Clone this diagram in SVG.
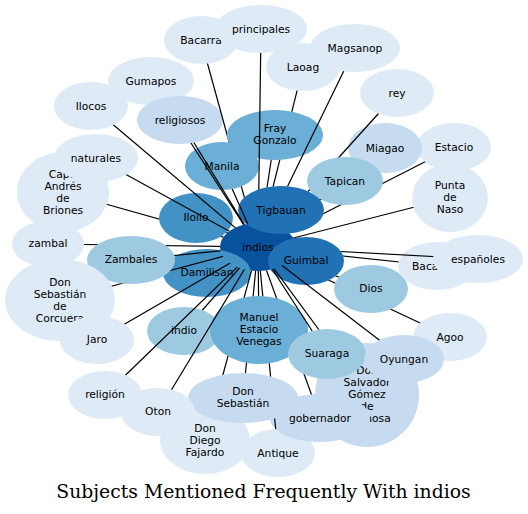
<svg xmlns="http://www.w3.org/2000/svg" xmlns:xlink="http://www.w3.org/1999/xlink" width="528" height="514" viewBox="0 0 528 514">
<style>
.f1{fill:#deebf7}.f2{fill:#c6dbef}.f3{fill:#9ecae1}.f4{fill:#6baed6}.f5{fill:#4292c6}.f6{fill:#2171b5}.f7{fill:#08519c}
text{font-family:"DejaVu Sans",sans-serif;font-size:10.7px;text-anchor:middle;fill:#000}
#title{font-family:"DejaVu Serif",serif;font-size:18.8px}
#edges line{stroke:#000;stroke-width:1.2}
</style>
<defs>
<ellipse id="s-bac" cx="201" cy="40" rx="37" ry="24"/>
<ellipse id="s-pri" cx="261" cy="29" rx="46" ry="24"/>
<ellipse id="s-gum" cx="151" cy="81" rx="43" ry="24"/>
<ellipse id="s-ilc" cx="91" cy="106" rx="37" ry="24"/>
<ellipse id="s-rel" cx="180" cy="120" rx="43" ry="24"/>
<ellipse id="s-lao" cx="303" cy="67" rx="37" ry="24"/>
<ellipse id="s-mag" cx="355" cy="48" rx="45" ry="24"/>
<ellipse id="s-rey" cx="397" cy="93" rx="37" ry="24"/>
<ellipse id="s-mia" cx="385" cy="148" rx="37" ry="25"/>
<ellipse id="s-est" cx="454" cy="147" rx="37" ry="24"/>
<ellipse id="s-fra" cx="275" cy="135" rx="48" ry="25"/>
<ellipse id="s-man" cx="222" cy="166" rx="37" ry="24"/>
<ellipse id="s-nat" cx="96" cy="158" rx="42" ry="24"/>
<ellipse id="s-cap" cx="63" cy="192" rx="46" ry="40"/>
<ellipse id="s-tap" cx="345" cy="181" rx="38" ry="24"/>
<ellipse id="s-pun" cx="450" cy="198" rx="38" ry="34"/>
<ellipse id="s-tig" cx="281" cy="210" rx="43" ry="24"/>
<ellipse id="s-ilo" cx="196" cy="218" rx="37" ry="25"/>
<ellipse id="s-ind" cx="258" cy="247" rx="38" ry="24"/>
<ellipse id="s-zal" cx="48" cy="244" rx="36" ry="23"/>
<ellipse id="s-zam" cx="131" cy="260" rx="44" ry="24"/>
<ellipse id="s-dam" cx="207" cy="273" rx="44" ry="24"/>
<ellipse id="s-gui" cx="306" cy="261" rx="38" ry="24"/>
<ellipse id="s-bca" cx="437" cy="266" rx="39" ry="24"/>
<ellipse id="s-esp" cx="478" cy="259" rx="45" ry="24"/>
<ellipse id="s-dio" cx="371" cy="289" rx="37" ry="24"/>
<ellipse id="s-cor" cx="60" cy="300" rx="55" ry="41"/>
<ellipse id="s-jar" cx="97" cy="340" rx="37" ry="24"/>
<ellipse id="s-ino" cx="184" cy="331" rx="37" ry="24"/>
<ellipse id="s-mev" cx="259" cy="330" rx="49" ry="34"/>
<ellipse id="s-ago" cx="450" cy="337" rx="37" ry="24"/>
<ellipse id="s-sua" cx="327" cy="354" rx="39" ry="25"/>
<ellipse id="s-oyu" cx="404" cy="359" rx="40" ry="24"/>
<ellipse id="s-dsg" cx="367" cy="395" rx="52" ry="52"/>
<ellipse id="s-rlg" cx="105" cy="395" rx="37" ry="24"/>
<ellipse id="s-oto" cx="158" cy="412" rx="37" ry="24"/>
<ellipse id="s-dse" cx="243" cy="398" rx="55" ry="25"/>
<ellipse id="s-gob" cx="320" cy="418" rx="50" ry="24"/>
<ellipse id="s-ddf" cx="205" cy="440" rx="45" ry="34"/>
<ellipse id="s-ant" cx="278" cy="453" rx="37" ry="24"/>
<rect id="bg" width="528" height="514" fill="#fff"/>
<mask id="m-bac" maskUnits="userSpaceOnUse" x="0" y="0" width="528" height="514"><use href="#bg"/><use href="#s-ind"/><use href="#s-bac"/><use href="#s-fra"/><use href="#s-man"/><use href="#s-tig"/></mask>
<mask id="m-pri" maskUnits="userSpaceOnUse" x="0" y="0" width="528" height="514"><use href="#bg"/><use href="#s-ind"/><use href="#s-pri"/><use href="#s-tig"/></mask>
<mask id="m-gum" maskUnits="userSpaceOnUse" x="0" y="0" width="528" height="514"><use href="#bg"/><use href="#s-ind"/><use href="#s-gum"/><use href="#s-rel"/></mask>
<mask id="m-ilc" maskUnits="userSpaceOnUse" x="0" y="0" width="528" height="514"><use href="#bg"/><use href="#s-ind"/><use href="#s-ilc"/></mask>
<mask id="m-rel" maskUnits="userSpaceOnUse" x="0" y="0" width="528" height="514"><use href="#bg"/><use href="#s-ind"/><use href="#s-rel"/></mask>
<mask id="m-lao" maskUnits="userSpaceOnUse" x="0" y="0" width="528" height="514"><use href="#bg"/><use href="#s-ind"/><use href="#s-lao"/><use href="#s-fra"/><use href="#s-tig"/></mask>
<mask id="m-mag" maskUnits="userSpaceOnUse" x="0" y="0" width="528" height="514"><use href="#bg"/><use href="#s-ind"/><use href="#s-mag"/><use href="#s-tig"/></mask>
<mask id="m-rey" maskUnits="userSpaceOnUse" x="0" y="0" width="528" height="514"><use href="#bg"/><use href="#s-ind"/><use href="#s-rey"/><use href="#s-tap"/><use href="#s-tig"/></mask>
<mask id="m-mia" maskUnits="userSpaceOnUse" x="0" y="0" width="528" height="514"><use href="#bg"/><use href="#s-ind"/><use href="#s-mia"/><use href="#s-tap"/><use href="#s-tig"/></mask>
<mask id="m-est" maskUnits="userSpaceOnUse" x="0" y="0" width="528" height="514"><use href="#bg"/><use href="#s-ind"/><use href="#s-est"/><use href="#s-tap"/><use href="#s-tig"/></mask>
<mask id="m-fra" maskUnits="userSpaceOnUse" x="0" y="0" width="528" height="514"><use href="#bg"/><use href="#s-ind"/><use href="#s-fra"/><use href="#s-tig"/></mask>
<mask id="m-man" maskUnits="userSpaceOnUse" x="0" y="0" width="528" height="514"><use href="#bg"/><use href="#s-ind"/><use href="#s-man"/></mask>
<mask id="m-nat" maskUnits="userSpaceOnUse" x="0" y="0" width="528" height="514"><use href="#bg"/><use href="#s-ind"/><use href="#s-nat"/></mask>
<mask id="m-cap" maskUnits="userSpaceOnUse" x="0" y="0" width="528" height="514"><use href="#bg"/><use href="#s-ind"/><use href="#s-cap"/><use href="#s-ilo"/></mask>
<mask id="m-tap" maskUnits="userSpaceOnUse" x="0" y="0" width="528" height="514"><use href="#bg"/><use href="#s-ind"/><use href="#s-tap"/><use href="#s-tig"/></mask>
<mask id="m-pun" maskUnits="userSpaceOnUse" x="0" y="0" width="528" height="514"><use href="#bg"/><use href="#s-ind"/><use href="#s-pun"/></mask>
<mask id="m-tig" maskUnits="userSpaceOnUse" x="0" y="0" width="528" height="514"><use href="#bg"/><use href="#s-ind"/><use href="#s-tig"/></mask>
<mask id="m-ilo" maskUnits="userSpaceOnUse" x="0" y="0" width="528" height="514"><use href="#bg"/><use href="#s-ind"/><use href="#s-ilo"/></mask>
<mask id="m-zal" maskUnits="userSpaceOnUse" x="0" y="0" width="528" height="514"><use href="#bg"/><use href="#s-ind"/><use href="#s-zal"/><use href="#s-zam"/></mask>
<mask id="m-zam" maskUnits="userSpaceOnUse" x="0" y="0" width="528" height="514"><use href="#bg"/><use href="#s-ind"/><use href="#s-zam"/></mask>
<mask id="m-dam" maskUnits="userSpaceOnUse" x="0" y="0" width="528" height="514"><use href="#bg"/><use href="#s-ind"/><use href="#s-dam"/></mask>
<mask id="m-gui" maskUnits="userSpaceOnUse" x="0" y="0" width="528" height="514"><use href="#bg"/><use href="#s-ind"/><use href="#s-gui"/></mask>
<mask id="m-bca" maskUnits="userSpaceOnUse" x="0" y="0" width="528" height="514"><use href="#bg"/><use href="#s-ind"/><use href="#s-bca"/><use href="#s-gui"/></mask>
<mask id="m-esp" maskUnits="userSpaceOnUse" x="0" y="0" width="528" height="514"><use href="#bg"/><use href="#s-ind"/><use href="#s-esp"/><use href="#s-gui"/></mask>
<mask id="m-dio" maskUnits="userSpaceOnUse" x="0" y="0" width="528" height="514"><use href="#bg"/><use href="#s-ind"/><use href="#s-dio"/><use href="#s-gui"/></mask>
<mask id="m-ago" maskUnits="userSpaceOnUse" x="0" y="0" width="528" height="514"><use href="#bg"/><use href="#s-ind"/><use href="#s-ago"/><use href="#s-gui"/><use href="#s-dio"/></mask>
<mask id="m-cor" maskUnits="userSpaceOnUse" x="0" y="0" width="528" height="514"><use href="#bg"/><use href="#s-ind"/><use href="#s-cor"/><use href="#s-zam"/></mask>
<mask id="m-jar" maskUnits="userSpaceOnUse" x="0" y="0" width="528" height="514"><use href="#bg"/><use href="#s-ind"/><use href="#s-jar"/></mask>
<mask id="m-ino" maskUnits="userSpaceOnUse" x="0" y="0" width="528" height="514"><use href="#bg"/><use href="#s-ind"/><use href="#s-ino"/></mask>
<mask id="m-mev" maskUnits="userSpaceOnUse" x="0" y="0" width="528" height="514"><use href="#bg"/><use href="#s-ind"/><use href="#s-mev"/></mask>
<mask id="m-sua" maskUnits="userSpaceOnUse" x="0" y="0" width="528" height="514"><use href="#bg"/><use href="#s-ind"/><use href="#s-sua"/></mask>
<mask id="m-oyu" maskUnits="userSpaceOnUse" x="0" y="0" width="528" height="514"><use href="#bg"/><use href="#s-ind"/><use href="#s-oyu"/></mask>
<mask id="m-dsg" maskUnits="userSpaceOnUse" x="0" y="0" width="528" height="514"><use href="#bg"/><use href="#s-ind"/><use href="#s-dsg"/><use href="#s-sua"/></mask>
<mask id="m-rlg" maskUnits="userSpaceOnUse" x="0" y="0" width="528" height="514"><use href="#bg"/><use href="#s-ind"/><use href="#s-rlg"/></mask>
<mask id="m-oto" maskUnits="userSpaceOnUse" x="0" y="0" width="528" height="514"><use href="#bg"/><use href="#s-ind"/><use href="#s-oto"/></mask>
<mask id="m-dse" maskUnits="userSpaceOnUse" x="0" y="0" width="528" height="514"><use href="#bg"/><use href="#s-ind"/><use href="#s-dse"/><use href="#s-mev"/></mask>
<mask id="m-gob" maskUnits="userSpaceOnUse" x="0" y="0" width="528" height="514"><use href="#bg"/><use href="#s-ind"/><use href="#s-gob"/><use href="#s-mev"/><use href="#s-sua"/></mask>
<mask id="m-ddf" maskUnits="userSpaceOnUse" x="0" y="0" width="528" height="514"><use href="#bg"/><use href="#s-ind"/><use href="#s-ddf"/><use href="#s-mev"/><use href="#s-dse"/></mask>
<mask id="m-ant" maskUnits="userSpaceOnUse" x="0" y="0" width="528" height="514"><use href="#bg"/><use href="#s-ind"/><use href="#s-ant"/><use href="#s-mev"/><use href="#s-dse"/></mask>
</defs>
<rect width="528" height="514" fill="#fff"/>
<g id="nodes">
<g id="n-bac"><use href="#s-bac" class="f1"/><text x="201" y="43.8">Bacarra</text></g>
<g id="n-pri"><use href="#s-pri" class="f1"/><text x="261" y="32.8">principales</text></g>
<g id="n-gum"><use href="#s-gum" class="f1"/><text x="151" y="84.8">Gumapos</text></g>
<g id="n-rel"><use href="#s-rel" class="f2"/><text x="180" y="123.8">religiosos</text></g>
<g id="n-ilc"><use href="#s-ilc" class="f1"/><text x="91" y="109.8">Ilocos</text></g>
<g id="n-lao"><use href="#s-lao" class="f1"/><text x="303" y="70.8">Laoag</text></g>
<g id="n-mag"><use href="#s-mag" class="f1"/><text x="355" y="51.8">Magsanop</text></g>
<g id="n-rey"><use href="#s-rey" class="f1"/><text x="397" y="96.8">rey</text></g>
<g id="n-est"><use href="#s-est" class="f1"/><text x="454" y="150.8">Estacio</text></g>
<g id="n-mia"><use href="#s-mia" class="f2"/><text x="385" y="151.8">Miagao</text></g>
<g id="n-cap"><use href="#s-cap" class="f1"/><text x="63" y="177.8">Capt.</text><text x="63" y="189.8">Andrés</text><text x="63" y="201.8">de</text><text x="63" y="213.8">Briones</text></g>
<g id="n-nat"><use href="#s-nat" class="f1"/><text x="96" y="161.8">naturales</text></g>
<g id="n-pun"><use href="#s-pun" class="f1"/><text x="450" y="188.8">Punta</text><text x="450" y="200.8">de</text><text x="450" y="212.8">Naso</text></g>
<g id="n-fra"><use href="#s-fra" class="f4"/><text x="275" y="131.8">Fray</text><text x="275" y="143.8">Gonzalo</text></g>
<g id="n-man"><use href="#s-man" class="f4"/><text x="222" y="169.8">Manila</text></g>
<g id="n-ilo"><use href="#s-ilo" class="f5"/><text x="196" y="221">Iloilo</text></g>
<g id="n-ind"><use href="#s-ind" class="f7"/><text x="258" y="250.8">indios</text></g>
<g id="n-tap"><use href="#s-tap" class="f3"/><text x="345" y="184.8">Tapican</text></g>
<g id="n-tig"><use href="#s-tig" class="f6"/><text x="281" y="213.8">Tigbauan</text></g>
<g id="n-dam"><use href="#s-dam" class="f5"/><text x="207" y="276">Damilisan</text></g>
<g id="n-zam"><use href="#s-zam" class="f3"/><text x="131" y="263">Zambales</text></g>
<g id="n-gui"><use href="#s-gui" class="f6"/><text x="306" y="264">Guimbal</text></g>
<g id="n-zal"><use href="#s-zal" class="f1"/><text x="48" y="247">zambal</text></g>
<g id="n-cor"><use href="#s-cor" class="f1"/><text x="60" y="285.8">Don</text><text x="60" y="297.8">Sebastián</text><text x="60" y="309.8">de</text><text x="60" y="321.8">Corcuera</text></g>
<g id="n-jar"><use href="#s-jar" class="f1"/><text x="97" y="343">Jaro</text></g>
<g id="n-ino"><use href="#s-ino" class="f3"/><text x="184" y="334">indio</text></g>
<g id="n-mev"><use href="#s-mev" class="f4"/><text x="259" y="320.8">Manuel</text><text x="259" y="332.8">Estacio</text><text x="259" y="344.8">Venegas</text></g>
<g id="n-ddf"><use href="#s-ddf" class="f1"/><text x="205" y="431.8">Don</text><text x="205" y="443.8">Diego</text><text x="205" y="455.8">Fajardo</text></g>
<g id="n-dse"><use href="#s-dse" class="f2"/><text x="243" y="395">Don</text><text x="243" y="407">Sebastián</text></g>
<g id="n-ant"><use href="#s-ant" class="f1"/><text x="278" y="457">Antique</text></g>
<g id="n-dsg"><use href="#s-dsg" class="f2"/><text x="367" y="374">Don</text><text x="367" y="386">Salvador</text><text x="367" y="398">Gómez</text><text x="367" y="410">de</text><text x="367" y="422">Espinosa</text></g>
<g id="n-gob"><use href="#s-gob" class="f2"/><text x="320" y="422">gobernador</text></g>
<g id="n-sua"><use href="#s-sua" class="f3"/><text x="327" y="357">Suaraga</text></g>
<g id="n-ago"><use href="#s-ago" class="f1"/><text x="450" y="341">Agoo</text></g>
<g id="n-oyu"><use href="#s-oyu" class="f2"/><text x="404" y="362.5">Oyungan</text></g>
<g id="n-dio"><use href="#s-dio" class="f3"/><text x="371" y="292">Dios</text></g>
<g id="n-bca"><use href="#s-bca" class="f1"/><text x="412" y="269.5" style="text-anchor:start">Baca</text></g>
<g id="n-esp"><use href="#s-esp" class="f1"/><text x="478" y="262.5">españoles</text></g>
<g id="n-rlg"><use href="#s-rlg" class="f1"/><text x="105" y="398">religión</text></g>
<g id="n-oto"><use href="#s-oto" class="f1"/><text x="158" y="415">Oton</text></g>
</g>
<g id="edges">
<line x1="258" y1="247" x2="201" y2="40" mask="url(#m-bac)"/>
<line x1="258" y1="247" x2="261" y2="29" mask="url(#m-pri)"/>
<line x1="258" y1="247" x2="151" y2="81" mask="url(#m-gum)"/>
<line x1="258" y1="247" x2="91" y2="106" mask="url(#m-ilc)"/>
<line x1="258" y1="247" x2="180" y2="120" mask="url(#m-rel)"/>
<line x1="258" y1="247" x2="303" y2="67" mask="url(#m-lao)"/>
<line x1="258" y1="247" x2="355" y2="48" mask="url(#m-mag)"/>
<line x1="258" y1="247" x2="397" y2="93" mask="url(#m-rey)"/>
<line x1="258" y1="247" x2="385" y2="148" mask="url(#m-mia)"/>
<line x1="258" y1="247" x2="454" y2="147" mask="url(#m-est)"/>
<line x1="258" y1="247" x2="275" y2="135" mask="url(#m-fra)"/>
<line x1="258" y1="247" x2="222" y2="166" mask="url(#m-man)"/>
<line x1="258" y1="247" x2="96" y2="158" mask="url(#m-nat)"/>
<line x1="258" y1="247" x2="63" y2="192" mask="url(#m-cap)"/>
<line x1="258" y1="247" x2="345" y2="181" mask="url(#m-tap)"/>
<line x1="258" y1="247" x2="450" y2="198" mask="url(#m-pun)"/>
<line x1="258" y1="247" x2="281" y2="210" mask="url(#m-tig)"/>
<line x1="258" y1="247" x2="196" y2="218" mask="url(#m-ilo)"/>
<line x1="258" y1="247" x2="48" y2="244" mask="url(#m-zal)"/>
<line x1="258" y1="247" x2="131" y2="260" mask="url(#m-zam)"/>
<line x1="258" y1="247" x2="207" y2="273" mask="url(#m-dam)"/>
<line x1="258" y1="247" x2="306" y2="261" mask="url(#m-gui)"/>
<line x1="258" y1="247" x2="437" y2="266" mask="url(#m-bca)"/>
<line x1="258" y1="247" x2="478" y2="259" mask="url(#m-esp)"/>
<line x1="258" y1="247" x2="371" y2="289" mask="url(#m-dio)"/>
<line x1="258" y1="247" x2="450" y2="337" mask="url(#m-ago)"/>
<line x1="258" y1="247" x2="60" y2="300" mask="url(#m-cor)"/>
<line x1="258" y1="247" x2="97" y2="340" mask="url(#m-jar)"/>
<line x1="258" y1="247" x2="184" y2="331" mask="url(#m-ino)"/>
<line x1="258" y1="247" x2="259" y2="330" mask="url(#m-mev)"/>
<line x1="258" y1="247" x2="327" y2="354" mask="url(#m-sua)"/>
<line x1="258" y1="247" x2="404" y2="359" mask="url(#m-oyu)"/>
<line x1="258" y1="247" x2="367" y2="395" mask="url(#m-dsg)"/>
<line x1="258" y1="247" x2="105" y2="395" mask="url(#m-rlg)"/>
<line x1="258" y1="247" x2="158" y2="412" mask="url(#m-oto)"/>
<line x1="258" y1="247" x2="243" y2="398" mask="url(#m-dse)"/>
<line x1="258" y1="247" x2="320" y2="418" mask="url(#m-gob)"/>
<line x1="258" y1="247" x2="205" y2="440" mask="url(#m-ddf)"/>
<line x1="258" y1="247" x2="278" y2="453" mask="url(#m-ant)"/>
</g>
<text id="title" x="263.5" y="498">Subjects Mentioned Frequently With indios</text>
</svg>
